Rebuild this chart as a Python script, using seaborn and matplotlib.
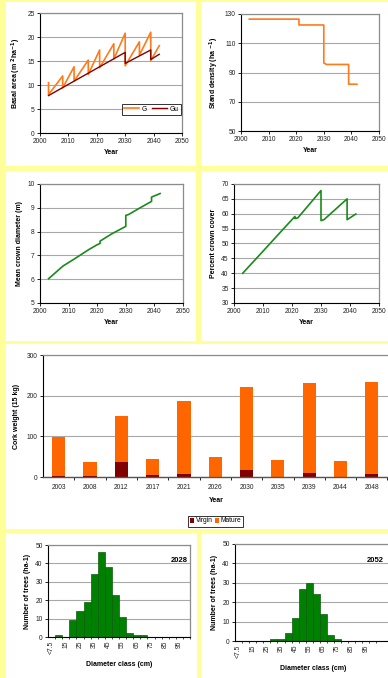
import numpy as np
import pandas as pd
import matplotlib
matplotlib.use("Agg")
import matplotlib.pyplot as plt
import seaborn as sns
from matplotlib.patches import Rectangle, Patch

# ---------------- data ----------------
g_year = [2003, 2003, 2008, 2008, 2012, 2012, 2017, 2017, 2021, 2021, 2026, 2026,
          2030, 2030, 2035, 2035, 2039, 2039, 2042]
g_val = [10.5, 8.0, 11.9, 9.4, 13.8, 10.8, 15.2, 12.2, 17.3, 13.6, 18.6, 15.4,
         20.8, 14.0, 19.0, 16.2, 21.0, 15.1, 18.2]
gu_year = [2003, 2030, 2030, 2039, 2039, 2042]
gu_val = [7.8, 16.8, 14.5, 17.3, 15.3, 16.4]

dens_year = [2003, 2021, 2021, 2030, 2030, 2031, 2039, 2039, 2042]
dens_val = [126.5, 126.5, 122.5, 122.5, 96.5, 95.5, 95.5, 82.0, 82.0]

crown_year = [2003, 2008, 2012, 2017, 2020, 2021, 2021, 2025, 2030, 2030, 2031,
              2035, 2039, 2039, 2042]
crown_val = [6.02, 6.55, 6.85, 7.24, 7.45, 7.5, 7.6, 7.9, 8.22, 8.68, 8.72,
             9.0, 9.27, 9.45, 9.6]

cover_year = [2003, 2010, 2016, 2021, 2021, 2022, 2030, 2030, 2031, 2035, 2039,
              2039, 2042]
cover_val = [40.0, 47.4, 53.8, 59.1, 58.4, 58.6, 67.8, 57.7, 58.0, 61.5, 65.0,
             58.0, 59.9]

cork_years = ["2003", "2008", "2012", "2017", "2021", "2026", "2030", "2035",
              "2039", "2044", "2048"]
cork_virgin = [2, 2, 36, 5, 7, 1, 17, 1, 10, 1, 7]
cork_mature = [96, 34, 114, 39, 180, 48, 204, 41, 221, 38, 226]

diam_classes = ["<7.5", "10", "15", "20", "25", "30", "35", "40", "45", "50",
                "55", "60", "65", "70", "75", "80", "85", "90", "95", "100"]
trees_2028 = [0, 1, 0, 9, 14, 19, 34, 46, 38, 23, 11, 2, 1, 1, 0, 0, 0, 0, 0, 0]
trees_2052 = [0, 0, 0, 0, 0, 1, 1, 4, 12, 27, 30, 24, 14, 3, 1, 0, 0, 0, 0, 0]

# ---------------- style ----------------
plt.rcParams["font.family"] = ["Liberation Sans", "DejaVu Sans"]
ORANGE = "#FF7A1A"
BAR_OR = "#FF6600"
DRED = "#800000"
GREEN = "#1A8A1A"
HGREEN = "#008000"
YEL = "#FFFF99"
TS = 4.8   # tick size
LS = 5.0   # label size

W, H = 388, 678
fig = plt.figure(figsize=(W / 100, H / 100), dpi=100)
fig.patch.set_facecolor("white")


def yrect(x0, y0, x1, y1):
    fig.patches.append(Rectangle((x0 / W, 1 - y1 / H), (x1 - x0) / W, (y1 - y0) / H,
                                 transform=fig.transFigure, facecolor=YEL,
                                 edgecolor="none", zorder=0))


yrect(0, 0, 6, H)           # left strip
yrect(0, 0, W, 2)           # top
yrect(0, 166, W, 171)       # row separator 1
yrect(196, 0, 201, 341)     # vertical separator rows 1-2
yrect(0, 341, W, 344)       # row separator 2
yrect(0, 529, W, 533)       # row separator 3
yrect(197, 529, 201, H)     # vertical separator histograms


def px_axes(x0, y0, x1, y1):
    return fig.add_axes([x0 / W, 1 - y1 / H, (x1 - x0) / W, (y1 - y0) / H])


def style(ax):
    ax.set_facecolor("white")
    ax.grid(axis="y", color="#a8a8a8", lw=0.8)
    ax.grid(axis="x", visible=False)
    ax.set_axisbelow(True)
    for s in ["top", "right"]:
        ax.spines[s].set_color("#8c8c8c")
        ax.spines[s].set_linewidth(0.9)
    for s in ["left", "bottom"]:
        ax.spines[s].set_color("black")
        ax.spines[s].set_linewidth(0.8)
    ax.tick_params(labelsize=TS, length=2, width=0.6, pad=1.8, colors="black",
                   labelcolor="#222222")


def line_panel(ax, years, vals, color, ylim, yticks, ylabel, label=None):
    df = pd.DataFrame({"Year": years, "v": vals})
    sns.lineplot(data=df, x="Year", y="v", estimator=None, sort=False,
                 color=color, lw=1.2, ax=ax, label=label, legend=bool(label))
    style(ax)
    ax.set_xlim(2000, 2050)
    ax.set_xticks(range(2000, 2051, 10))
    ax.set_ylim(*ylim)
    ax.set_yticks(yticks)
    ax.set_xlabel("Year", fontsize=LS, fontweight="bold", labelpad=3)
    ax.set_ylabel(ylabel, fontsize=LS, fontweight="bold", labelpad=3)


# panel 1: basal area
ax1 = px_axes(40, 13, 182, 133)
ylab1 = r"Basal area (m $^{\mathbf{2}}$ha$^{\mathbf{-1}}$)"
line_panel(ax1, g_year, g_val, ORANGE, (0, 25), range(0, 26, 5), ylab1, label="G")
sns.lineplot(data=pd.DataFrame({"Year": gu_year, "v": gu_val}), x="Year", y="v",
             estimator=None, sort=False, color=DRED, lw=1.0, ax=ax1, label="Gu")
ax1.set_ylabel(ylab1, fontsize=LS, fontweight="bold", labelpad=3)
ax1.set_xlabel("Year", fontsize=LS, fontweight="bold", labelpad=3)
leg = ax1.legend(loc="upper left", bbox_to_anchor=(0.58, 0.245), ncol=2,
                 fontsize=TS, frameon=True, fancybox=False, edgecolor="black",
                 handlelength=2.2, columnspacing=0.8, handletextpad=0.4,
                 borderpad=0.3, borderaxespad=0)
leg.get_frame().set_linewidth(0.7)

# panel 2: stand density
ax2 = px_axes(241, 14, 379, 131)
line_panel(ax2, dens_year, dens_val, ORANGE, (50, 130), range(50, 131, 20),
           r"Stand density (ha $^{\mathbf{-1}}$)")

# panel 3: mean crown diameter
ax3 = px_axes(40, 184, 183, 303)
line_panel(ax3, crown_year, crown_val, GREEN, (5, 10), range(5, 11),
           "Mean crown diameter (m)")

# panel 4: percent crown cover
ax4 = px_axes(234, 184, 379, 303)
line_panel(ax4, cover_year, cover_val, GREEN, (30, 70), range(30, 71, 5),
           "Percent crown cover")

# panel 5: cork weight stacked bars
ax5 = px_axes(43, 355, 390, 477)
cork = pd.DataFrame({"Year": cork_years, "Virgin": cork_virgin, "Mature": cork_mature})
cork["Total"] = cork["Virgin"] + cork["Mature"]
sns.barplot(data=cork, x="Year", y="Total", color=BAR_OR, width=0.42,
            saturation=1, ax=ax5, edgecolor="none")
sns.barplot(data=cork, x="Year", y="Virgin", color=DRED, width=0.42,
            saturation=1, ax=ax5, edgecolor="none")
style(ax5)
ax5.set_ylim(0, 300)
ax5.set_yticks([0, 100, 200, 300])
ax5.set_xlim(-0.5, 10.58)
ax5.spines["right"].set_visible(False)
ax5.spines["bottom"].set_color("#555555")
ax5.spines["bottom"].set_linewidth(1.0)
ax5.tick_params(axis="x", length=0, pad=5)
ax5.set_xticks(np.arange(0.5, 10.6, 1), minor=True)
ax5.tick_params(axis="x", which="minor", length=2.5, width=0.6, color="black")
ax5.set_xlabel("Year", fontsize=LS, fontweight="bold", labelpad=4)
ax5.set_ylabel("Cork weight (15 kg)", fontsize=LS, fontweight="bold", labelpad=5)
leg5 = fig.legend(handles=[Patch(facecolor=DRED, label="Virgin"),
                           Patch(facecolor=BAR_OR, label="Mature")],
                  loc="center", bbox_to_anchor=(215.5 / W, 1 - 521 / H), ncol=2,
                  fontsize=TS, frameon=True, fancybox=False, edgecolor="black",
                  handlelength=0.7, handleheight=0.7, columnspacing=0.3,
                  handletextpad=0.2, borderpad=0.3)
leg5.get_frame().set_linewidth(0.7)


def hist_panel(ax, counts, year, xmax, tx):
    df = pd.DataFrame({"cls": diam_classes, "n": counts})
    sns.barplot(data=df, x="cls", y="n", color=HGREEN, width=1.0, saturation=1,
                edgecolor="#0d5c0d", linewidth=0.5, ax=ax)
    style(ax)
    ax.set_ylim(0, 50)
    ax.set_yticks(range(0, 51, 10))
    ax.set_xlim(-0.5, xmax)
    ax.set_xticks(range(0, 20, 2))
    ax.set_xticklabels(diam_classes[::2], rotation=90)
    ax.tick_params(axis="x", length=0, pad=2.5)
    ax.set_xticks(np.arange(0.5, 20, 1), minor=True)
    ax.tick_params(axis="x", which="minor", length=1.5, width=0.5, color="black")
    ax.set_xlabel("Diameter class (cm)", fontsize=LS, fontweight="bold", labelpad=5)
    ax.set_ylabel("Number of trees (ha-1)", fontsize=LS, fontweight="bold", labelpad=3)
    ax.text(tx, 0.83, year, transform=ax.transAxes, ha="right", va="center",
            fontsize=5.5, fontweight="bold")


ax6 = px_axes(48, 545, 190, 637)
hist_panel(ax6, trees_2028, "2028", 19.5, 0.985)
ax7 = px_axes(235, 544, 392, 641)
hist_panel(ax7, trees_2052, "2052", 21.7, 0.945)
ax7.spines["right"].set_visible(False)

fig.savefig("out.png", dpi=100, facecolor="white")
